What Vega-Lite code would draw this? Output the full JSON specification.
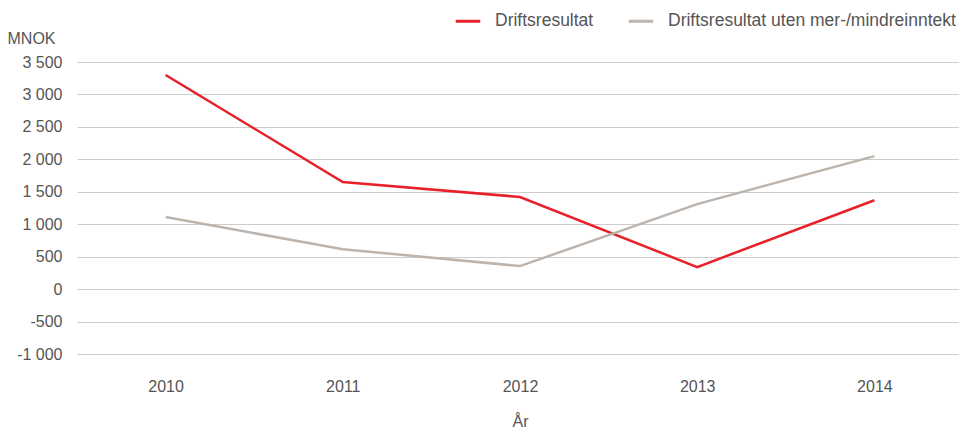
{
  "$schema": "https://vega.github.io/schema/vega-lite/v6.json",
  "autosize": "none",
  "width": 886,
  "height": 292,
  "padding": {"left": 77, "top": 62, "right": 0, "bottom": 76},
  "background": "white",
  "config": {
    "font": "Liberation Sans",
    "view": {"stroke": null},
    "axis": {"labelColor": "#555555", "titleColor": "#555555", "labelFontSize": 16, "titleFontSize": 16, "titleFontWeight": "normal", "labelFont": "Liberation Sans", "titleFont": "Liberation Sans"},
    "legend": {"labelColor": "#555555", "labelFontSize": 17.5, "labelFont": "Liberation Sans", "labelLimit": 500}
  },
  "data": {
    "values": [
      {"year": "2010", "series": "Driftsresultat", "value": 3300},
      {"year": "2011", "series": "Driftsresultat", "value": 1650},
      {"year": "2012", "series": "Driftsresultat", "value": 1420},
      {"year": "2013", "series": "Driftsresultat", "value": 340},
      {"year": "2014", "series": "Driftsresultat", "value": 1370},
      {"year": "2010", "series": "Driftsresultat uten mer-/mindreinntekt", "value": 1110},
      {"year": "2011", "series": "Driftsresultat uten mer-/mindreinntekt", "value": 615},
      {"year": "2012", "series": "Driftsresultat uten mer-/mindreinntekt", "value": 355},
      {"year": "2013", "series": "Driftsresultat uten mer-/mindreinntekt", "value": 1310},
      {"year": "2014", "series": "Driftsresultat uten mer-/mindreinntekt", "value": 2050}
    ]
  },
  "mark": {"type": "line", "strokeWidth": 2.5},
  "encoding": {
    "x": {
      "field": "year", "type": "ordinal",
      "scale": {"type": "point", "padding": 0.5},
      "axis": {"title": "År", "labelAngle": 0, "ticks": false, "domain": false, "grid": false, "labelPadding": 24, "titlePadding": 19}
    },
    "y": {
      "field": "value", "type": "quantitative",
      "scale": {"domain": [-1000, 3500], "nice": false},
      "axis": {
        "title": "MNOK", "titleAngle": 0, "titleX": -70, "titleY": -24, "titleAlign": "left", "titleBaseline": "middle",
        "values": [-1000, -500, 0, 500, 1000, 1500, 2000, 2500, 3000, 3500],
        "labelExpr": "replace(replace(format(datum.value, ','), ',', ' '), '−', '-')",
        "ticks": false, "domain": false, "labelPadding": 15,
        "gridColor": "#cccccc", "gridWidth": 1.2
      }
    },
    "color": {
      "field": "series", "type": "nominal",
      "scale": {"domain": ["Driftsresultat", "Driftsresultat uten mer-/mindreinntekt"], "range": ["#e8202a", "#bdb5ad"]},
      "legend": {"title": null, "orient": "none", "direction": "horizontal", "legendX": 377, "legendY": -55, "symbolType": "stroke", "symbolSize": 600, "symbolStrokeWidth": 3, "columnPadding": 28, "labelOffset": 13}
    }
  }
}
